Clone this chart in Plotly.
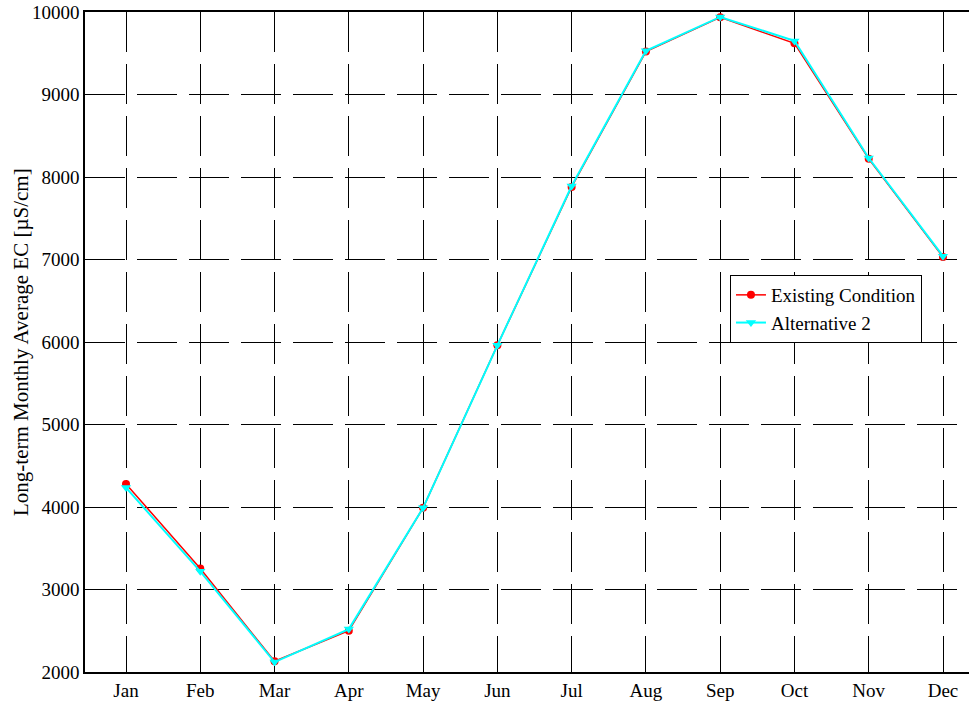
import plotly.graph_objects as go

months = ["Jan", "Feb", "Mar", "Apr", "May", "Jun", "Jul", "Aug", "Sep", "Oct", "Nov", "Dec"]
month_idx = list(range(1, 13))
existing = [4280, 3255, 2130, 2500, 3990, 5960, 7880, 9520, 9935, 9620, 8220, 7030]
alt2 = [4235, 3220, 2120, 2520, 3990, 5960, 7890, 9530, 9940, 9650, 8230, 7040]
y_ticks = [2000, 3000, 4000, 5000, 6000, 7000, 8000, 9000, 10000]
y_tick_labels = ["2000", "3000", "4000", "5000", "6000", "7000", "8000", "9000", "10000"]
y_label = "Long-term Monthly Average EC [µS/cm]"

font_family = "Liberation Serif, Times New Roman, serif"

fig = go.Figure()
fig.add_trace(go.Scatter(
    x=month_idx, y=existing, name="Existing Condition", mode="lines+markers",
    line=dict(color="#ff0000", width=1.5),
    marker=dict(symbol="circle", size=8, color="#ff0000"),
))
fig.add_trace(go.Scatter(
    x=month_idx, y=alt2, name="Alternative 2", mode="lines+markers",
    line=dict(color="#00ffff", width=2),
    marker=dict(symbol="triangle-down", size=9, color="#00ffff"),
))

fig.add_annotation(
    text=y_label, xref="paper", yref="paper", x=-0.0724, y=0.5,
    xanchor="center", yanchor="middle", textangle=-90, showarrow=False,
    font=dict(family=font_family, size=21, color="black"),
)

fig.update_layout(
    width=969, height=702,
    margin=dict(l=85, r=0, t=12, b=30),
    paper_bgcolor="white", plot_bgcolor="white",
    font=dict(family=font_family, size=19, color="black"),
    showlegend=True,
    legend=dict(
        x=0.7296, y=0.6015, xanchor="left", yanchor="top",
        bgcolor="white", bordercolor="black", borderwidth=1,
        font=dict(family=font_family, size=19, color="black"),
        tracegroupgap=0, itemwidth=30,
    ),
    xaxis=dict(
        range=[0.448, 12.35], tickvals=month_idx, ticktext=months,
        showgrid=True, gridcolor="black", gridwidth=1, griddash="40px,12px",
        showline=True, linecolor="black", linewidth=1.5, mirror=True,
        ticks="inside", ticklen=6, tickcolor="black",
        zeroline=False, tickfont=dict(size=19), automargin=False,
        ticklabeloverflow="allow",
    ),
    yaxis=dict(
        range=[2000, 10000], tickvals=y_ticks, ticktext=y_tick_labels,
        showgrid=True, gridcolor="black", gridwidth=1, griddash="40px,12px",
        showline=True, linecolor="black", linewidth=1.5, mirror=False,
        ticks="inside", ticklen=6, tickcolor="black",
        zeroline=False, tickfont=dict(size=19), automargin=False,
        ticklabeloverflow="allow",
    ),
)

fig.write_html(
    "out.html",
    config={"displayModeBar": False},
    post_script="document.body.style.margin='0';document.body.style.overflow='hidden';",
)
